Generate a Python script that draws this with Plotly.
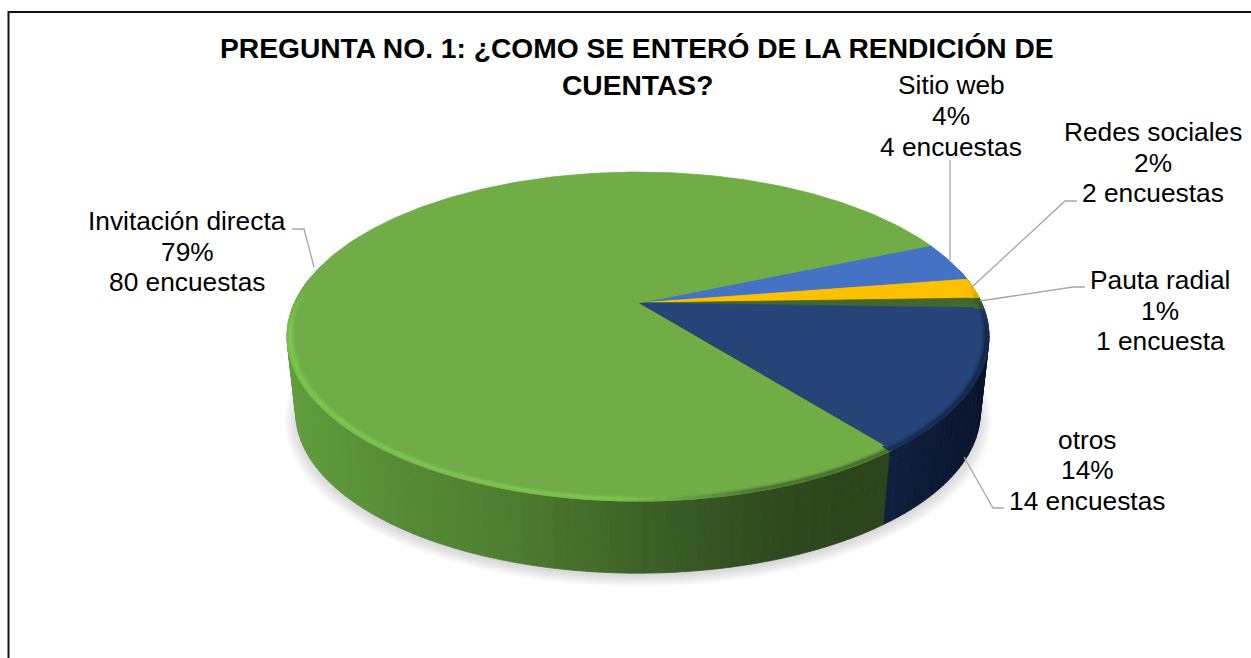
import numpy as np
import plotly.graph_objects as go

# Survey answers, in clockwise order from the start angle
categories = ["Sitio web", "Redes sociales", "Pauta radial", "otros", "Invitación directa"]
responses = [4, 2, 1, 14, 80]
top_colors = ["#4472C4", "#FFC000", "#43682B", "#264478", "#70AD47"]
title_lines = ["PREGUNTA NO. 1: ¿COMO SE ENTERÓ DE LA RENDICIÓN DE", "CUENTAS?"]

# Pie geometry in screen pixels, measured from the pie's apex
START_DEG = 23.2
SEMI_X, SEMI_Y, PERSPECTIVE = 343.6, 157.7, 0.204
BASE_SCALE, BASE_DROP = 0.975, 77.0
APEX_X, APEX_Y = 638.0, 303.0
W, H = 1251, 658

total = sum(responses)
edges = START_DEG - np.cumsum([0] + responses) * 360.0 / total


def project(t_deg, r=1.0, scale=1.0, drop=0.0):
    t = np.radians(t_deg)
    d = 1 + PERSPECTIVE * r * np.sin(t)
    return scale * SEMI_X * r * np.cos(t) / d, drop + scale * -SEMI_Y * r * np.sin(t) / d


def rgb(c):
    c = c.lstrip("#")
    return np.array([int(c[i:i + 2], 16) for i in (0, 2, 4)], float)


def css(v):
    return "rgb(%d,%d,%d)" % tuple(np.clip(np.round(v), 0, 255))


def mix(a, b, w):
    return a + (b - a) * w


def slice_index(t):
    for i in range(len(responses)):
        if edges[i + 1] <= ((t - START_DEG) % -360) + START_DEG <= edges[i]:
            return i
    return len(responses) - 1


# Side wall shading by horizontal position
WALL_X = np.array([-350, -240, -140, -70, 10, 80, 160, 252, 360])
GREEN_WALL = np.array([[95, 158, 60], [86, 139, 53], [79, 127, 49], [71, 112, 43],
                       [60, 97, 38], [52, 84, 35], [45, 72, 28], [43, 68, 27], [43, 68, 27]], float)
NAVY_WALL = np.array([15, 32, 64], float)


def wall_color(i, x):
    if categories[i] == "Invitación directa":
        return np.array([np.interp(x, WALL_X, GREEN_WALL[:, c]) for c in range(3)])
    return mix(NAVY_WALL, np.array([9, 20, 42.0]), np.clip((x - 250) / 100, 0, 1))


fig = go.Figure()


def polygon(xs, ys, color, opacity=None):
    # Repeat the first vertex so the outline closes and hides seams between strips
    fig.add_trace(go.Scatter(
        x=np.r_[xs, xs[0]], y=np.r_[ys, ys[0]], mode="lines", fill="toself", fillcolor=color,
        line=dict(color=color, width=0.8 if opacity is None else 0),
        opacity=opacity, hoverinfo="skip", showlegend=False,
    ))


# Soft drop shadow below the disc
ring = np.arange(0, 361, 3.0)
for grow, shift in zip(np.linspace(1.032, 0.985, 9), np.linspace(7, 2, 9)):
    sx, sy = project(ring, scale=BASE_SCALE * grow, drop=BASE_DROP + shift)
    polygon(sx, sy, "rgb(120,120,120)", opacity=0.045)

# Side wall, built from narrow vertical strips
STEP = 1.5
for a in np.arange(170.0, 372.0, STEP):
    b = a + STEP
    mid = (a + b) / 2
    ts = np.array([a, b])
    x1, y1 = project(ts)
    x2, y2 = project(ts[::-1], scale=BASE_SCALE, drop=BASE_DROP)
    i = slice_index(mid)
    polygon(np.r_[x1, x2], np.r_[y1, y2], css(wall_color(i, x1.mean())))

# Top face of each slice
for i, color in enumerate(top_colors):
    arc = np.linspace(edges[i], edges[i + 1], max(3, int(abs(edges[i + 1] - edges[i]) / 1.0)))
    ax, ay = project(arc)
    polygon(np.r_[0, ax], np.r_[0, ay], color)

# Bevel along the near rim: bright on the left, fading into the dark wall on the right
RIM_R = np.array([0.974, 0.980, 0.985, 0.990, 0.995, 1.0])
RIM_W = np.array([0.0, 0.3, 0.7, 1.0, 0.7])
for a in np.arange(170.0, 372.0, 2.0):
    b = a + 2.0
    mid = (a + b) / 2
    i = slice_index(mid)
    s = np.sin(np.radians(mid))
    fade = np.clip((0.12 - s) / 0.3, 0, 1)
    if fade <= 0:
        continue
    x_mid = project(mid)[0]
    top = rgb(top_colors[i])
    wall = wall_color(i, x_mid)
    lit = np.clip((120 - x_mid) / 140, 0, 1)
    highlight = np.minimum(top * 1.12 + np.array([0, 5, 0]), 255)
    for j, w in enumerate(RIM_W):
        ring_color = mix(mix(top, wall, 0.75 * (j + 1) / len(RIM_W)), highlight, lit)
        col = mix(top, ring_color, w * fade)
        ts = np.array([a, b])
        x1, y1 = project(ts, r=RIM_R[j])
        x2, y2 = project(ts[::-1], r=RIM_R[j + 1])
        polygon(np.r_[x1, x2], np.r_[y1, y2], css(col))

# Leader lines from each slice to its label, in page pixels
leaders = [
    ([950, 950], [260, 160]),
    ([972, 1065, 1077], [287, 201, 201]),
    ([980, 1073, 1085], [301, 287, 287]),
    ([964, 993, 1004], [457, 508, 508]),
    ([314, 304, 292], [267, 229, 229]),
]
for lx, ly in leaders:
    fig.add_trace(go.Scatter(
        x=[v - APEX_X for v in lx], y=[v - APEX_Y for v in ly], mode="lines",
        line=dict(color="#A6A6A6", width=1.3), hoverinfo="skip", showlegend=False,
    ))

# Three-line data labels
label_pos = [(951, [85, 116, 147]), (1153, [132, 163, 193]), (1160, [280, 311, 341]),
             (1087, [440, 470, 501]), (187, [221, 252, 282])]
annotations = []
FONT = "Liberation Sans, Arial, sans-serif"
for name, n, (cx, rows) in zip(categories, responses, label_pos):
    unit = "encuesta" if n == 1 else "encuestas"
    lines = [name, f"{round(n / total * 100)}%", f"{n} {unit}"]
    for text, cy in zip(lines, rows):
        annotations.append(dict(
            x=cx - APEX_X, y=cy - APEX_Y, xref="x", yref="y", text=text, showarrow=False,
            font=dict(family=FONT, size=26.3, color="#000000"), xanchor="center", yanchor="middle",
        ))
for text, cy in zip(title_lines, [48, 85]):
    annotations.append(dict(
        x=637 - APEX_X, y=cy - APEX_Y, xref="x", yref="y", text=f"<b>{text}</b>", showarrow=False,
        font=dict(family=FONT, size=28.2, color="#000000"), xanchor="center", yanchor="middle",
    ))

# Chart frame: only the top and left edges fall inside the page
frame = dict(type="path", xref="x", yref="y",
             path=f"M {W - APEX_X},{12 - APEX_Y} L {8.5 - APEX_X},{12 - APEX_Y} L {8.5 - APEX_X},{H - APEX_Y}",
             line=dict(color="#111111", width=2), layer="above")

fig.update_layout(
    width=W, height=H, margin=dict(l=0, r=0, t=0, b=0),
    paper_bgcolor="#FFFFFF", plot_bgcolor="#FFFFFF", showlegend=False,
    xaxis=dict(range=[-APEX_X, W - APEX_X], visible=False, fixedrange=True),
    yaxis=dict(range=[H - APEX_Y, -APEX_Y], visible=False, fixedrange=True),
    annotations=annotations, shapes=[frame],
)
fig.write_html("out.html", config={"displayModeBar": False})
